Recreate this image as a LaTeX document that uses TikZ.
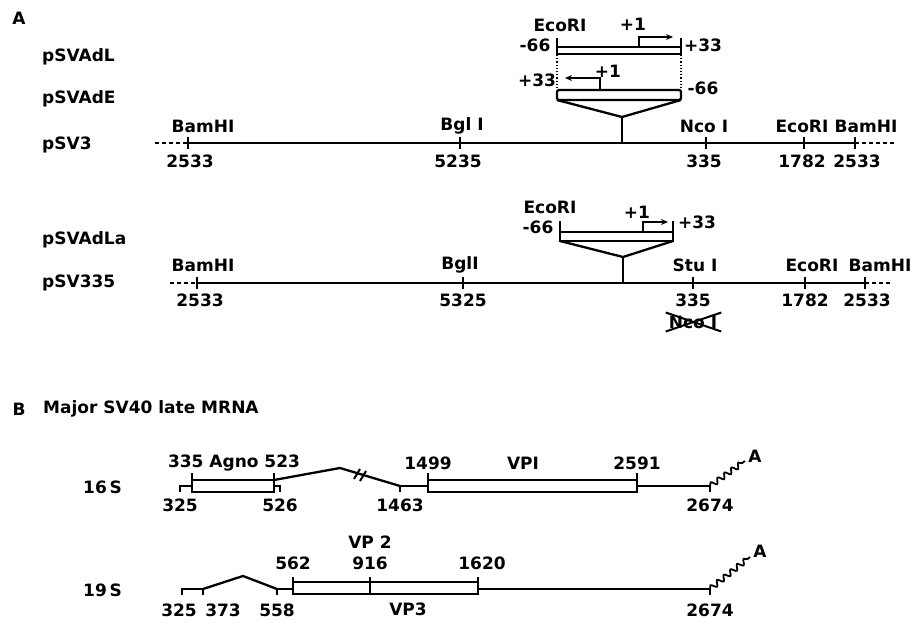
\documentclass[tikz,border=0pt]{standalone}
\usepackage{fontspec}
\setmainfont{DejaVu Sans}
\usetikzlibrary{arrows.meta,decorations.pathmorphing}

\begin{document}
\begin{tikzpicture}[x=1pt, y=-1pt,
    lbl/.style={font=\fontsize{17}{17}\selectfont\bfseries, inner sep=0pt},
    plasmid/.style={lbl, anchor=west},
    dna/.style={line width=2.3pt},
    tick/.style={line width=2pt},
    ext/.style={line width=1.8pt, dash pattern=on 4pt off 3pt},
    tss/.style={-{Stealth[length=7pt,width=6pt]}, line width=1.8pt},
    polyA/.style={line width=1.8pt, decorate, decoration={snake, amplitude=2.6pt, segment length=8.5pt}}
]
    \useasboundingbox (0,0) rectangle (914,622);

    % ---- A ----
    \node[lbl] (partA) at (19,18) {A};
    \node[plasmid] (adl) at (42,57) {pSVAdL};
    \node[plasmid] (ade) at (42,99) {pSVAdE};
    \node[plasmid] (sv3) at (42,145) {pSV3};
    \node[plasmid] (adla) at (42,240) {pSVAdLa};
    \node[plasmid] (sv335) at (42,283) {pSV335};

    % pSVAdL fragment
    \draw[dna] (557,47) rectangle (681,54);
    \draw[tick] (557,38) -- (557,54) (681,38) -- (681,54);
    \draw[tss] (639,47) -- (639,37) -- (673,37);
    \node[lbl] (adlEco) at (560,25) {EcoRI};
    \node[lbl] (adlTss) at (633,24) {+1};
    \node[lbl] (adlL) at (535,45) {-66};
    \node[lbl] (adlR) at (703,45) {+33};
    \draw[line width=1.2pt, dotted] (557,55) -- (557,90) (681,55) -- (681,90);

    % pSVAdE fragment
    \draw[dna, rounded corners=1.5pt] (557,90) rectangle (681,100);
    \draw[tss] (600,90) -- (600,78) -- (565,78);
    \node[lbl] (adeL) at (537,80) {+33};
    \node[lbl] (adeTss) at (608,71) {+1};
    \node[lbl] (adeR) at (703,88) {-66};
    \draw[dna] (557,100) -- (622,117) -- (681,100);
    \draw[dna] (622,117) -- (622,143);

    % pSV3
    \draw[ext] (155,143) -- (188,143);
    \draw[dna] (188,143) -- (855,143);
    \draw[ext] (855,143) -- (895,143);
    \foreach \x in {188,460,706,804,855}
        \draw[tick] (\x,137) -- (\x,149);
    \node[lbl] (sv3Bam) at (203,126) {BamHI};
    \node[lbl] (sv3Bgl) at (462,126) {Bgl I};
    \node[lbl] (sv3Nco) at (704,126) {Nco I};
    \node[lbl] (sv3Eco) at (802,126) {EcoRI};
    \node[lbl] (sv3Bam2) at (866,126) {BamHI};
    \node[lbl] (sv3n1) at (190,161) {2533};
    \node[lbl] (sv3n2) at (458,161) {5235};
    \node[lbl] (sv3n3) at (704,161) {335};
    \node[lbl] (sv3n4) at (802,161) {1782};
    \node[lbl] (sv3n5) at (857,161) {2533};

    % pSVAdLa fragment
    \draw[dna] (560,232) rectangle (673,241);
    \draw[tick] (560,221) -- (560,241) (673,221) -- (673,241);
    \draw[tss] (643,232) -- (643,222) -- (668,222);
    \node[lbl] (adlaEco) at (550,207) {EcoRI};
    \node[lbl] (adlaTss) at (637,212) {+1};
    \node[lbl] (adlaL) at (538,227) {-66};
    \node[lbl] (adlaR) at (697,222) {+33};
    \draw[dna] (560,241) -- (623,257) -- (673,241);
    \draw[dna] (623,257) -- (623,283);

    % pSV335
    \draw[ext] (170,283) -- (197,283);
    \draw[dna] (197,283) -- (865,283);
    \draw[ext] (865,283) -- (892,283);
    \foreach \x in {197,463,693,805,865}
        \draw[tick] (\x,277) -- (\x,289);
    \node[lbl] (svBam) at (203,265) {BamHI};
    \node[lbl] (svBgl) at (460,265) {BglI};
    \node[lbl] (svStu) at (695,265) {Stu I};
    \node[lbl] (svEco) at (812,265) {EcoRI};
    \node[lbl] (svBam2) at (880,265) {BamHI};
    \node[lbl] (svn1) at (200,300) {2533};
    \node[lbl] (svn2) at (463,300) {5325};
    \node[lbl] (svn3) at (693,300) {335};
    \node[lbl] (svn4) at (805,300) {1782};
    \node[lbl] (svn5) at (867,300) {2533};
    \node[lbl] (lostNco) at (693,322) {Nco I};
    \draw[tick] ([xshift=-3pt,yshift=-3pt]lostNco.south west) -- ([xshift=4pt,yshift=3pt]lostNco.north east);
    \draw[tick] ([xshift=-3pt,yshift=3pt]lostNco.north west) -- ([xshift=4pt,yshift=-3pt]lostNco.south east);

    % ---- B ----
    \node[lbl] (partB) at (19,409) {B};
    \node[plasmid] (title) at (43,409) {Major SV40 late MRNA};
    \node[plasmid] (s16) at (83,487) {16\,S};
    \node[plasmid] (s19) at (83,590) {19\,S};

    % 16S
    \draw[tick] (180,492) -- (180,486) -- (192,486);
    \draw[dna] (192,480) rectangle (274,492);
    \draw[tick] (192,473) -- (192,480) (274,473) -- (274,480);
    \draw[tick] (274,486) -- (280,486) -- (280,492);
    \draw[dna] (274,480) -- (340,468) -- (400,486);
    \draw[tick] (354,479) -- (360,469) (360,481) -- (366,471);
    \draw[tick] (400,486) -- (400,492);
    \draw[dna] (400,486) -- (428,486);
    \draw[dna] (428,480) rectangle (637,492);
    \draw[tick] (428,473) -- (428,480) (637,473) -- (637,480);
    \draw[dna] (637,486) -- (710,486);
    \draw[tick] (710,486) -- (710,492);
    \draw[polyA] (710,486) -- (745,461);
    \node[lbl] (a16) at (755,456) {A};
    \node[lbl] (agno) at (234,463) {335 Agno 523};
    \node[lbl] (n325a) at (180,505) {325};
    \node[lbl] (n526) at (280,505) {526};
    \node[lbl] (n1463) at (400,505) {1463};
    \node[lbl] (n1499) at (428,463) {1499};
    \node[lbl] (vp1) at (523,463) {VPI};
    \node[lbl] (n2591) at (637,463) {2591};
    \node[lbl] (n2674a) at (710,505) {2674};

    % 19S
    \draw[tick] (182,595) -- (182,589) -- (203,589);
    \draw[tick] (203,589) -- (203,595);
    \draw[dna] (203,589) -- (243,576) -- (277,589);
    \draw[tick] (277,589) -- (277,595);
    \draw[dna] (277,589) -- (293,589);
    \draw[dna] (293,582) rectangle (478,594);
    \draw[tick] (293,577) -- (293,582) (370,577) -- (370,594) (478,577) -- (478,582);
    \draw[dna] (478,589) -- (710,589);
    \draw[tick] (710,589) -- (710,595);
    \draw[polyA] (710,589) -- (750,557);
    \node[lbl] (a19) at (760,551) {A};
    \node[lbl] (vp2) at (370,542) {VP 2};
    \node[lbl] (n562) at (293,563) {562};
    \node[lbl] (n916) at (370,563) {916};
    \node[lbl] (n1620) at (482,563) {1620};
    \node[lbl] (n325b) at (179,610) {325};
    \node[lbl] (n373) at (223,610) {373};
    \node[lbl] (n558) at (277,610) {558};
    \node[lbl] (vp3) at (408,609) {VP3};
    \node[lbl] (n2674b) at (710,610) {2674};
\end{tikzpicture}
\end{document}
